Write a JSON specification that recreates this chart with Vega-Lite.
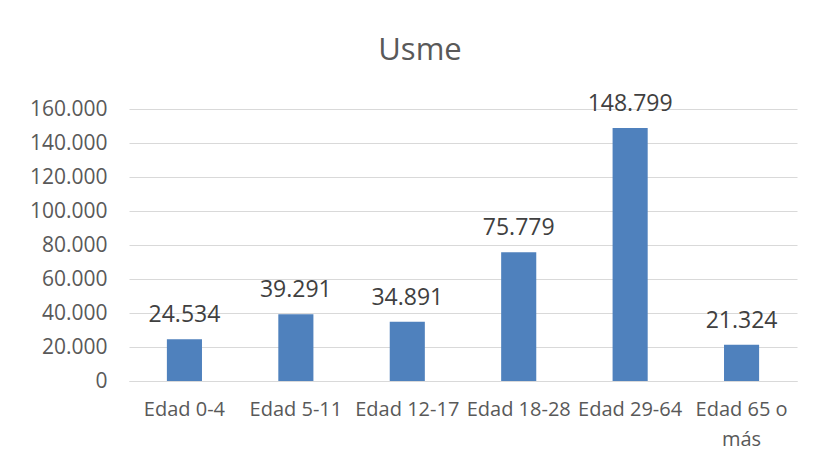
{
  "$schema": "https://vega.github.io/schema/vega-lite/v6.json",
  "autosize": "none",
  "width": 668,
  "height": 272,
  "padding": {"left": 129, "top": 109, "right": 19, "bottom": 85},
  "background": "white",
  "config": {
    "locale": {"number": {"decimal": ",", "thousands": ".", "grouping": [3], "currency": ["$", ""]}},
    "view": {"stroke": null},
    "font": "Open Sans"
  },
  "title": {"text": "Usme", "fontSize": 31, "font": "Open Sans", "fontWeight": "normal", "color": "#595959", "offset": 26, "dx": -43},
  "data": {"values": [
    {"grupo": "Edad 0-4", "poblacion": 24534},
    {"grupo": "Edad 5-11", "poblacion": 39291},
    {"grupo": "Edad 12-17", "poblacion": 34891},
    {"grupo": "Edad 18-28", "poblacion": 75779},
    {"grupo": "Edad 29-64", "poblacion": 148799},
    {"grupo": "Edad 65 o más", "poblacion": 21324}
  ]},
  "encoding": {
    "x": {"field": "grupo", "type": "nominal", "sort": null,
      "scale": {"paddingInner": 0.685, "paddingOuter": 0.34},
      "axis": {"title": null, "labelAngle": 0, "ticks": false, "domainColor": "#d9d9d9", "labelFontSize": 20, "labelColor": "#595959", "labelPadding": 18, "labelLimit": 300, "labelOverlap": false, "labelLineHeight": 30,
        "labelExpr": "datum.label == 'Edad 65 o más' ? ['Edad 65 o', 'más'] : datum.label"}},
    "y": {"field": "poblacion", "type": "quantitative",
      "scale": {"domain": [0, 160000], "nice": false},
      "axis": {"title": null, "values": [0, 20000, 40000, 60000, 80000, 100000, 120000, 140000, 160000], "format": ",.0f", "domain": false, "ticks": false, "gridColor": "#d9d9d9", "labelFontSize": 21, "labelColor": "#595959", "labelPadding": 22}}
  },
  "layer": [
    {"mark": {"type": "bar", "color": "#4F81BD"}},
    {"mark": {"type": "text", "baseline": "alphabetic", "dy": -17, "fontSize": 23, "color": "#404040"},
     "encoding": {"text": {"field": "poblacion", "type": "quantitative", "format": ",.0f"}}}
  ]
}
